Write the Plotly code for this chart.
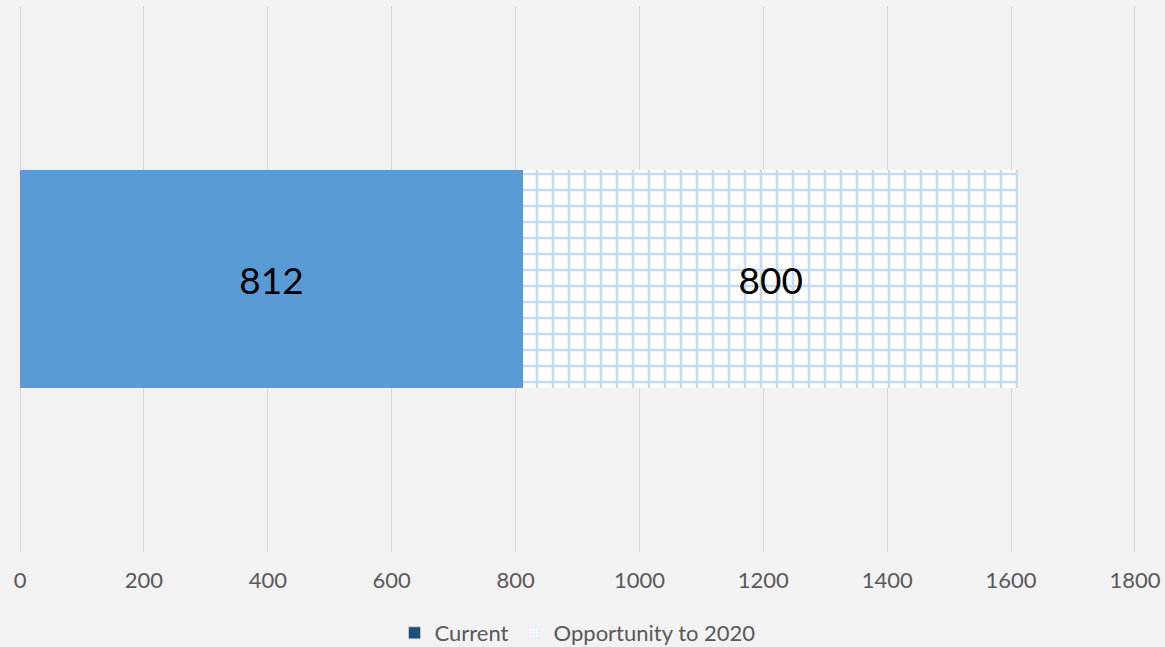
import plotly.graph_objects as go

categories = ["Total"]
current = [812]
opportunity = [800]
series_names = ["Current", "Opportunity to 2020"]
tick_vals = [0, 200, 400, 600, 800, 1000, 1200, 1400, 1600, 1800]

fig = go.Figure()
fig.add_trace(go.Bar(
    y=categories, x=current, orientation="h", name=series_names[0],
    marker=dict(color="#5b9bd5", line=dict(width=0)),
    text=[str(v) for v in current], textposition="inside", insidetextanchor="middle",
    textfont=dict(size=37, color="#000000", family="Lato"),
    showlegend=False, width=0.4,
))
fig.add_trace(go.Bar(
    y=categories, x=opportunity, orientation="h", name=series_names[1],
    marker=dict(color="#ffffff", line=dict(width=0),
                pattern=dict(shape="+", fgcolor="#8ab8e4", bgcolor="#ffffff",
                             size=16, solidity=0.3, fillmode="overlay")),
    text=[str(v) for v in opportunity], textposition="inside", insidetextanchor="middle",
    textfont=dict(size=37, color="#000000", family="Lato"),
    showlegend=False, width=0.4,
))
# legend entries
fig.add_trace(go.Bar(y=[None], x=[None], orientation="h", name=series_names[0],
                     marker=dict(color="#1f4e79")))
fig.add_trace(go.Bar(y=[None], x=[None], orientation="h", name=series_names[1],
                     marker=dict(color="#ffffff",
                                 pattern=dict(shape="+", fgcolor="#b4d0ee", bgcolor="#ffffff",
                                              size=4, solidity=0.4))))

fig.update_layout(
    barmode="stack",
    width=1165, height=647,
    paper_bgcolor="#f2f2f2", plot_bgcolor="#f2f2f2",
    margin=dict(l=17, r=27, t=6, b=95, autoexpand=False),
    font=dict(family="Lato", color="#595959"),
    xaxis=dict(range=[-5, 1805], tickvals=tick_vals, showgrid=True, gridcolor="#d6d6d6",
               gridwidth=1, zeroline=False, showline=False,
               tickfont=dict(size=22, color="#595959"), ticks="", ticklabelstandoff=13),
    yaxis=dict(visible=False, range=[-0.5, 0.5]),
    legend=dict(orientation="h", x=0.5, xanchor="center", y=-0.11, yanchor="top",
                font=dict(size=22, color="#595959"), bgcolor="rgba(0,0,0,0)",
                traceorder="normal", itemwidth=30),
)
fig.write_html("out.html")
